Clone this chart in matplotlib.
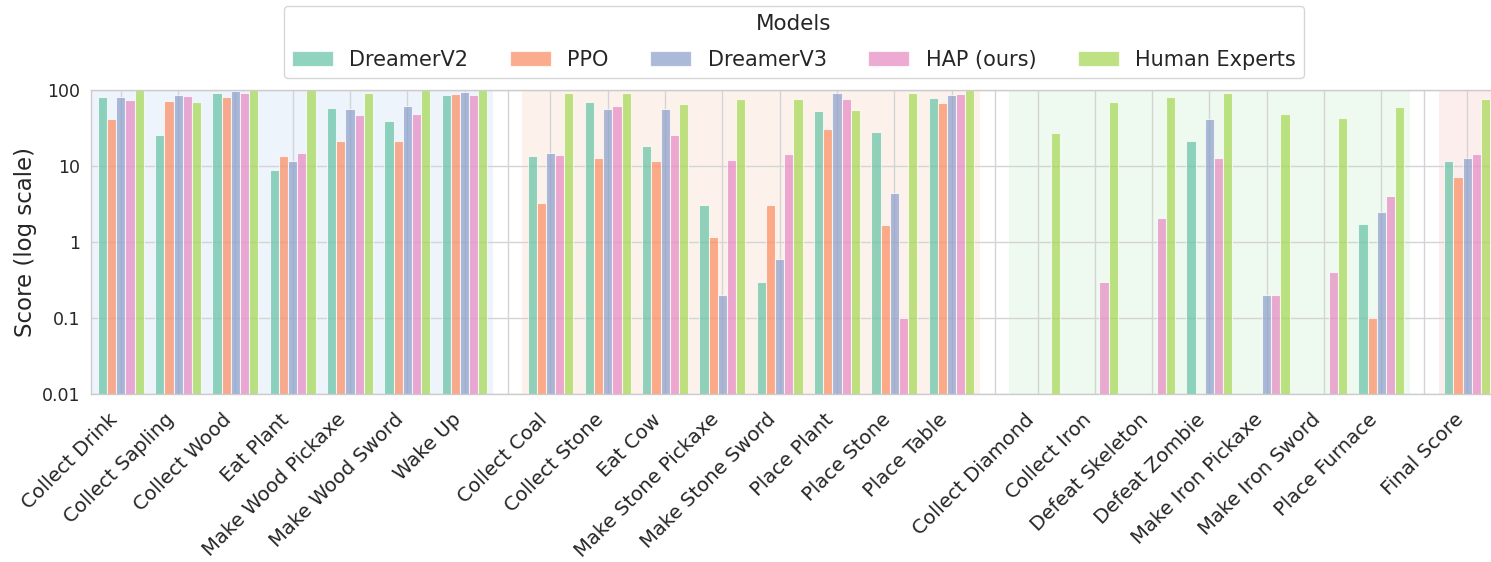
"""
Crafter 各任务成功率对比图（对数坐标）
"""

import numpy as np
import matplotlib
matplotlib.use('Agg')
import matplotlib.pyplot as plt
from matplotlib.ticker import FixedLocator, FuncFormatter

plt.rcParams['font.family'] = ['DejaVu Sans']

# ============ 数据 ============
group_basic = ['Collect Drink', 'Collect Sapling', 'Collect Wood', 'Eat Plant',
               'Make Wood Pickaxe', 'Make Wood Sword', 'Wake Up']
group_stone = ['Collect Coal', 'Collect Stone', 'Eat Cow', 'Make Stone Pickaxe',
               'Make Stone Sword', 'Place Plant', 'Place Stone', 'Place Table']
group_iron = ['Collect Diamond', 'Collect Iron', 'Defeat Skeleton', 'Defeat Zombie',
              'Make Iron Pickaxe', 'Make Iron Sword', 'Place Furnace']
group_final = ['Final Score']

models = ['DreamerV2', 'PPO', 'DreamerV3', 'HAP (ours)', 'Human Experts']

nan = np.nan
dreamerv2 = [80, 25.6, 90, 8.8, 58, 39, 86,
             13.5, 70, 18.6, 3.1, 0.3, 53.5, 28, 78,
             nan, nan, nan, 21.4, nan, nan, 1.75,
             11.7]
ppo = [41, 71, 81, 13.5, 21.4, 21.4, 88,
       3.3, 12.6, 11.7, 1.17, 3.1, 31, 1.66, 67.5,
       nan, nan, nan, nan, nan, nan, 0.1,
       7.1]
dreamerv3 = [80, 86, 98, 11.8, 56, 61, 95,
             14.9, 57, 56, 0.2, 0.6, 90, 4.45, 85,
             nan, nan, nan, 41, 0.2, nan, 2.5,
             12.6]
hap = [74, 83, 90, 14.9, 46.5, 48, 86,
       13.9, 62, 25.7, 12, 14.5, 77, 0.1, 88,
       nan, 0.3, 2.05, 12.8, 0.2, 0.4, 4.06,
       14.3]
human = [100, 70, 100, 100, 91, 100, 100,
         91, 91, 65.5, 75, 75, 54.6, 91, 100,
         27, 70, 81, 91, 49, 43, 59,
         75]

# ============ 布局 ============
groups = [group_basic, group_stone, group_iron, group_final]
span_colors = ['#edf4fc', '#fdf2eb', '#eefaef', '#fdeeee']
palette = ['#66c2a5', '#fc8d62', '#8da0cb', '#e78ac3', '#a6d854']
gap = 1.5

labels, positions, spans, gap_lines = [], [], [], []
x0 = 0.0
for gi, g in enumerate(groups):
    pos = x0 + np.arange(len(g))
    labels += g
    positions += list(pos)
    spans.append((pos[0] - 0.5, pos[-1] + 0.5))
    x0 = pos[-1] + gap
    if gi < len(groups) - 1:
        gap_lines.append(pos[-1] + gap / 2)
positions = np.array(positions)

fig = plt.figure(figsize=(14.91, 5.62), dpi=100)
ax = fig.add_axes([91 / 1491, 1 - 394 / 562, (1497 - 91) / 1491, (394 - 90) / 562])
ax.set_yscale('log')

# 背景分组色块
for (a, b), c in zip(spans, span_colors):
    ax.axvspan(a, b, color=c, zorder=0, lw=0)

# 柱状图
n = len(models)
width = 0.8 / n
series = [dreamerv2, ppo, dreamerv3, hap, human]
for i, (vals, name) in enumerate(zip(series, models)):
    ax.bar(positions + (i - (n - 1) / 2) * width, np.array(vals, dtype=float), width=width,
           color=palette[i], alpha=0.72, edgecolor='white', linewidth=0.8,
           label=name, zorder=2)

ax.set_ylim(0.01, 100)
ax.set_xlim(positions[0] - 0.52, positions[-1] + 0.52)

# 坐标轴与网格
ticks = sorted(list(positions) + gap_lines)
tick_labels = []
for t in ticks:
    if t in gap_lines:
        tick_labels.append('')
    else:
        tick_labels.append(labels[list(positions).index(t)])
ax.set_xticks(ticks)
ax.set_xticklabels(tick_labels, rotation=45, ha='right', fontsize=14.2)
ax.yaxis.set_major_locator(FixedLocator([0.01, 0.1, 1, 10, 100]))
ax.yaxis.set_minor_locator(FixedLocator([]))
ax.yaxis.set_major_formatter(FuncFormatter(lambda v, p: f'{v:g}'))
ax.tick_params(axis='y', length=0, pad=8, labelsize=12.5, colors='#262626')
ax.tick_params(axis='x', length=0, pad=11.5, colors='#262626')
ax.set_ylabel('Score (log scale)', fontsize=16.5, color='#262626', labelpad=3)
ax.grid(True, color='#d4d4d4', linewidth=1.0, zorder=1)
ax.set_axisbelow(True)
for s in ax.spines.values():
    s.set_color('#cccccc')
    s.set_linewidth(1.0)

leg = ax.legend(loc='lower center', bbox_to_anchor=(0.5, 1.04), ncol=5,
                title='Models', fontsize=15, title_fontsize=15.5,
                handlelength=1.95, handleheight=0.7, handletextpad=0.8,
                columnspacing=2.0, frameon=True, fancybox=True,
                borderpad=0.4, labelspacing=0.75, borderaxespad=0)
leg.get_frame().set_edgecolor('#cccccc')
for t in leg.get_texts():
    t.set_color('#262626')
leg.get_title().set_color('#262626')

fig.savefig('out.png', dpi=100)
